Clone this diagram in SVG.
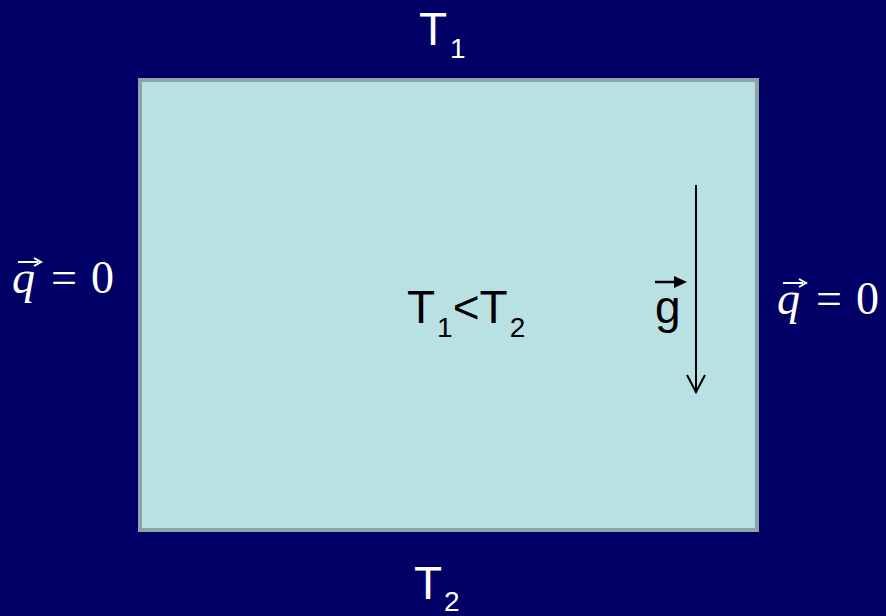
<svg xmlns="http://www.w3.org/2000/svg" width="886" height="616" viewBox="0 0 886 616">
  <defs>
    <style>
      .lbl { font-family: "Liberation Sans", Arial, sans-serif; font-size: 46px; }
      .sub { font-size: 28px; }
      .math { font-family: "Liberation Serif", "Times New Roman", serif; font-size: 46px; fill: #ffffff; }
      .white { fill: #ffffff; }
      .black { fill: #000000; }
      .vec { stroke: #ffffff; stroke-width: 2; fill: none; }
    </style>
  </defs>
  <rect x="0" y="0" width="886" height="616" fill="#000066"/>

  <g id="box">
    <rect x="140" y="80" width="617" height="450" fill="#b9e0e3" stroke="#8ba5a5" stroke-width="4"/>
  </g>

  <g id="label-top">
    <text class="lbl white" x="419" y="45">T<tspan class="sub" dx="3" dy="13">1</tspan></text>
  </g>
  <g id="label-bottom">
    <text class="lbl white" x="414" y="599">T<tspan class="sub" dx="2" dy="12">2</tspan></text>
  </g>
  <g id="label-center">
    <text class="lbl black" x="407" y="323">T<tspan class="sub" dx="2" dy="14">1</tspan><tspan dy="-14">&lt;T</tspan><tspan class="sub" dx="2" dy="14">2</tspan></text>
  </g>

  <g id="q-left">
    <text class="math" x="12" y="293" font-style="italic">q</text>
    <text class="math" x="51" y="293">=</text>
    <text class="math" x="91" y="293">0</text>
    <line class="vec" x1="18" y1="262" x2="38" y2="262"/>
    <path class="vec" d="M34,258 L41,262 L34,266"/>
  </g>
  <g id="q-right">
    <text class="math" x="777" y="314" font-style="italic">q</text>
    <text class="math" x="816" y="314">=</text>
    <text class="math" x="856" y="314">0</text>
    <line class="vec" x1="783" y1="283" x2="803" y2="283"/>
    <path class="vec" d="M799,279 L806,283 L799,287"/>
  </g>

  <g id="gravity">
    <text class="lbl black" x="655" y="323">g</text>
    <line x1="655" y1="282" x2="676" y2="282" stroke="#000000" stroke-width="2.5"/>
    <path d="M674,276 L687,282 L674,288 Z" fill="#000000"/>
  </g>

  <g id="connectors">
    <line x1="696" y1="185" x2="696" y2="391" stroke="#000000" stroke-width="2"/>
    <path d="M687,375 L696,392 L705,375" fill="none" stroke="#000000" stroke-width="2"/>
  </g>
</svg>
